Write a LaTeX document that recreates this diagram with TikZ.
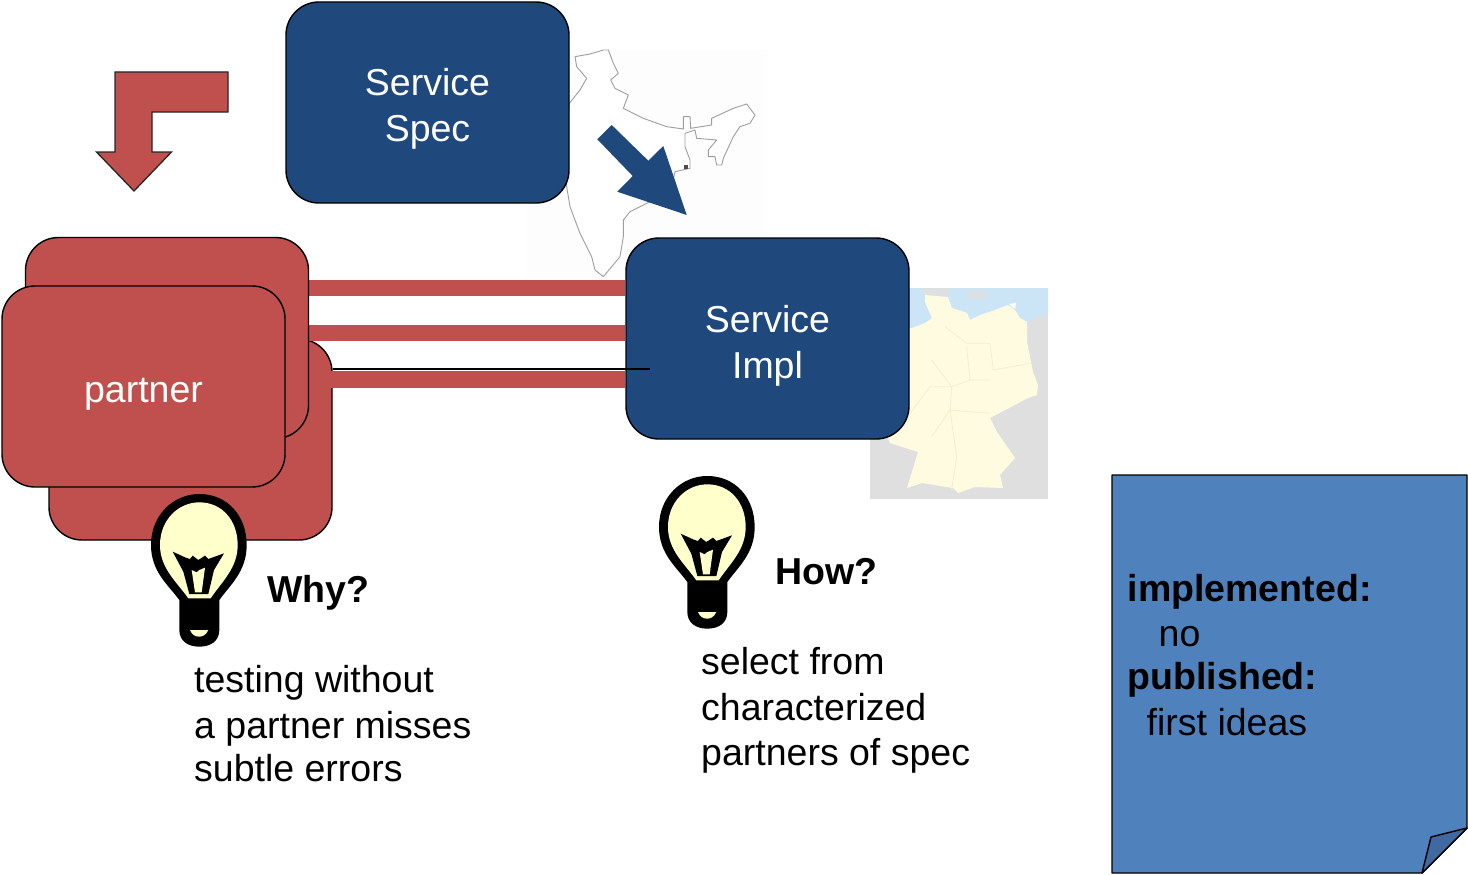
\documentclass[tikz,border=0pt]{standalone}
\usepackage{fontspec}
\setmainfont{Liberation Sans}
\definecolor{navy}{HTML}{1F497D}
\definecolor{brick}{HTML}{C0504D}
\definecolor{notefill}{HTML}{4F81BD}
\definecolor{notefold}{HTML}{4069A0}
\definecolor{cream}{HTML}{FFFFCC}
\definecolor{landc}{HTML}{FFFBE0}
\definecolor{landl}{HTML}{F3EECF}
\definecolor{seac}{HTML}{CBE5F7}
\definecolor{grayc}{HTML}{DFDFDF}
\newcommand{\dnshift}{\rule{0pt}{41pt}}
\newcommand{\dnshiftless}{\rule{0pt}{39pt}}
\tikzset{
  txt/.style={font=\fontsize{37.5}{46}\selectfont},
  card/.style={draw=black,line width=1.4pt,rounded corners=33pt,minimum width=283pt,minimum height=201pt,
    text=white,align=center,inner sep=0pt,txt},
  bluecard/.style={card,fill=navy},
  redcard/.style={card,fill=brick},
  bar/.style={draw=brick,line width=16.5pt},
  label/.style={txt,align=left,anchor=north west,inner sep=0pt,text=black},
  pics/bulb/.style={code={
    \begin{scope}[scale=1/3]
    \fill[black] (118,345) .. controls (85,300) and (33,260) .. (33,180)
      .. controls (33,90) and (100,27) .. (178,27)
      .. controls (260,27) and (320,90) .. (320,180)
      .. controls (320,260) and (270,300) .. (238,345)
      -- (238,435) .. controls (238,468) and (212,485) .. (178,485)
      .. controls (144,485) and (118,468) .. (118,435) -- cycle;
    \fill[cream] (145,340) .. controls (110,290) and (60,250) .. (60,180)
      .. controls (60,105) and (115,52) .. (178,52)
      .. controls (245,52) and (293,105) .. (293,180)
      .. controls (293,250) and (245,290) .. (212,340) -- cycle;
    \fill[cream] (150,435) -- (205,435) .. controls (198,450) and (188,455) .. (178,455)
      .. controls (166,455) and (156,450) .. (150,435) -- cycle;
    \fill[black] (98,200) -- (135,217) -- (150,222) -- (158,212) -- (175,225) -- (195,212)
      -- (205,222) -- (252,205) -- (222,255) -- (205,327) -- (148,327) -- (130,260) -- cycle;
    \fill[cream] (155,255) -- (170,262) -- (178,255) -- (195,248) -- (185,322) -- (165,322) -- cycle;
    \end{scope}
  }}
}
\begin{document}
\begin{tikzpicture}[x=1pt,y=-1pt]
\useasboundingbox (0,0) rectangle (1468,875);
% India map
\begin{scope}[shift={(520,30)},scale=1/3]
\fill[black!0.6] (20,60) rectangle (740,745);
\draw[black!38,line width=0.9pt,line join=round,fill=white]
  (165,80) -- (210,72) -- (250,60) -- (265,60) -- (280,100) -- (295,130) -- (272,150) -- (285,175)
  -- (325,195) -- (310,235) -- (370,265) -- (440,290) -- (490,297) -- (490,260) -- (510,260) -- (512,295)
  -- (575,285) -- (575,265) -- (640,235) -- (680,222) -- (705,255) -- (690,280) -- (660,290) -- (640,320)
  -- (610,385) -- (605,405) -- (590,405) -- (585,380) -- (565,380) -- (565,360) -- (590,330) -- (530,325)
  -- (525,300) -- (495,310) -- (495,350) -- (510,390) -- (510,415) -- (465,425) -- (450,500) -- (390,515)
  -- (330,545) -- (310,570) -- (310,620) -- (300,680) -- (250,740) -- (225,720) -- (215,680) -- (180,610)
  -- (150,530) -- (140,470) -- (140,300) -- (148,220) -- (180,180) -- (200,145) -- (170,110) -- cycle;
\fill[black!70] (493,405) rectangle (505,418);
\end{scope}
% Germany map
\fill[grayc] (870,288) rectangle (1048,499);
\fill[seac] (905,288) -- (1048,288) -- (1048,313) -- (1027,322) -- (1020,345) -- (905,345) -- cycle;
\fill[grayc!85!seac] (920,288) -- (950,288) -- (948,297) -- (925,295) -- cycle;
\fill[grayc!70!seac] (965,291) -- (985,289) -- (987,298) -- (970,300) -- cycle;
\fill[landc] (925,295) -- (948,297) -- (952,308) -- (967,313) -- (970,320) -- (980,315) -- (995,310)
  -- (1008,305) -- (1015,310) -- (1020,318) -- (1027,322) -- (1027,342) -- (1033,372) -- (1038,385)
  -- (1037,395) -- (1028,398) -- (990,418) -- (997,432) -- (1015,458) -- (1000,475) -- (1003,488)
  -- (975,487) -- (958,493) -- (953,488) -- (922,483) -- (907,488) -- (918,452) -- (890,443) -- (888,438)
  -- (900,330) -- (912,328) -- (925,323) -- (932,318) -- (925,302) -- cycle;
\fill[white] (1009,304) -- (1016,303) -- (1015,309) -- cycle;
\begin{scope}[shift={(860,280)},scale=1/3]
\draw[landl,line width=0.8pt] (255,140) -- (320,190) -- (390,190) -- (400,270) -- (510,250);
\draw[landl,line width=0.8pt] (215,240) -- (275,320) -- (330,300) -- (390,300);
\draw[landl,line width=0.8pt] (150,400) -- (210,320) -- (275,320) -- (270,390) -- (390,400);
\draw[landl,line width=0.8pt] (215,470) -- (270,390) -- (290,530) -- (275,630);
\draw[landl,line width=0.8pt] (320,200) -- (330,300);
\end{scope}
% red bent arrow
\draw[draw=black!85,line width=1.3pt,fill=brick,line join=miter] (228,72) -- (115,72) -- (115,152) -- (96.5,152) -- (134,191) -- (171.5,152) -- (152,152) -- (152,112) -- (228,112) -- cycle;
% boxes
\node[bluecard] (spec) at (427.5,102.5) {\dnshiftless Service\\[0pt]Spec};
\node[redcard] (back) at (190.5,439.5) {};
\node[bluecard] (impl) at (767.5,338.5) {\dnshift Service\\[0pt]Impl};
\coordinate (lineend) at (650,369);
\coordinate (secondedge) at (309,338);
% bars
\draw[bar] (secondedge |- 0,288) -- (impl.west |- 0,288);
\draw[bar] (secondedge |- 0,333) -- (impl.west |- 0,333);
\draw[bar] (secondedge |- 0,379.5) -- (impl.west |- 0,379.5);
\draw[black,line width=1.2pt] (back.east |- lineend) -- (lineend);
\node[redcard] (second) at (167,338) {};
\node[redcard] (front) at (143.5,386.5) {\dnshiftless partner};
% blue arrow
\fill[navy] (611.7,125) -- (648.3,160.7) -- (663.3,146) -- (686.7,215) -- (617.3,191.7) -- (632.7,176) -- (597.3,139.3) -- cycle;
% bulbs
\pic at (140,485) {bulb};
\pic at (648,467) {bulb};
% labels
\node[label,font=\fontsize{37.5}{46}\selectfont\bfseries] (why) at (267,575.5) {Why?};
\node[label,font=\fontsize{37.5}{46}\selectfont\bfseries] (how) at (775,558.5) {How?};
\node[label] (whytxt) at (194,665) {testing without\\a partner misses\\[-3pt]subtle errors};
\node[label] (howtxt) at (701,647) {select from\\characterized\\[-1pt]partners of spec};
% note
\draw[draw=black,line width=1.4pt,fill=notefill,line join=round] (1112,475) -- (1467,475) -- (1467,828) -- (1422,873) -- (1112,873) -- cycle;
\draw[draw=black,line width=1.4pt,fill=notefold,line join=round] (1467,828) -- (1431,837) -- (1422,873) -- cycle;
\node[label] (status) at (1127.5,574) {\textbf{implemented:}\\[-0.5pt]\hspace*{31pt}no\\[-3pt]\textbf{published:}\\\hspace*{19pt}first ideas};
\end{tikzpicture}
\end{document}
